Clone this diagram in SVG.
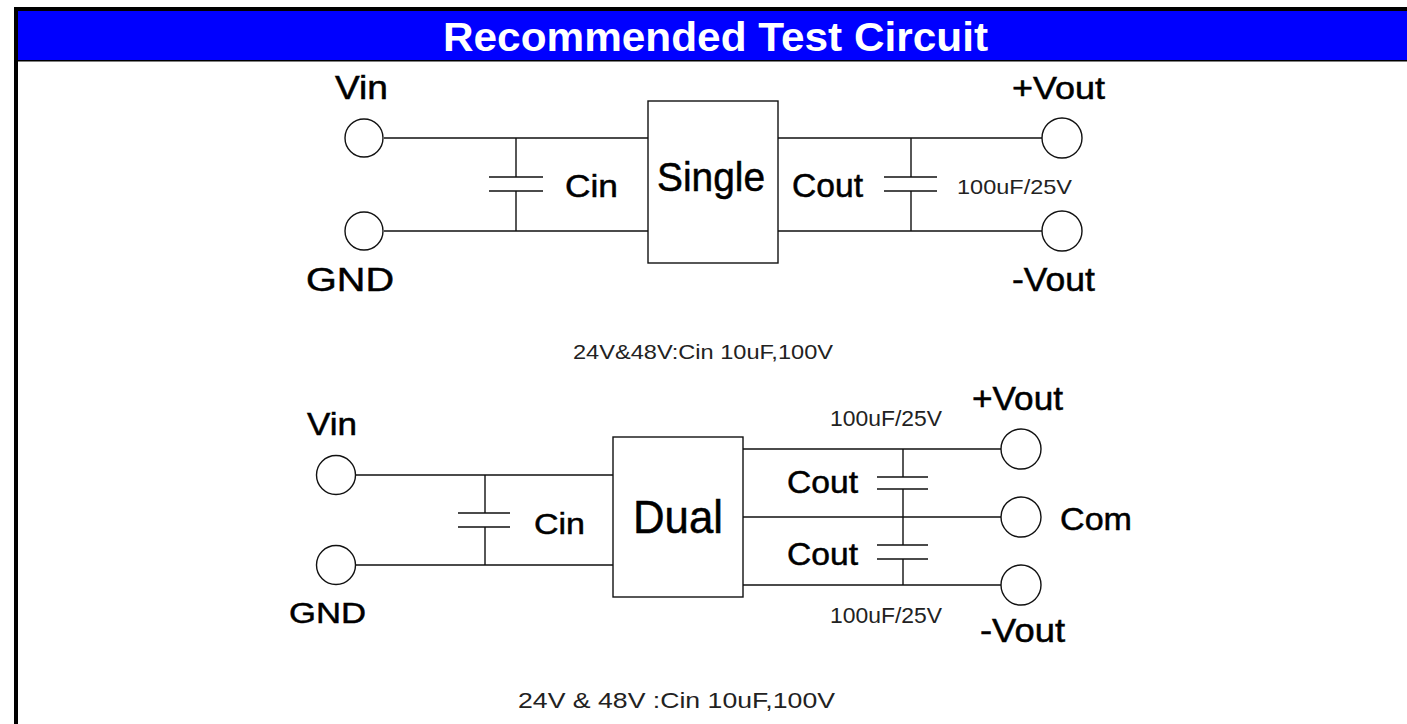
<svg xmlns="http://www.w3.org/2000/svg" width="1407" height="724" viewBox="0 0 1407 724">
<style>
.w{stroke:#111;stroke-width:1.4;fill:none}
.t{font-family:"Liberation Sans",Arial,sans-serif;fill:#000;stroke:#000;stroke-width:0.5}
.s{font-family:"Liberation Sans",Arial,sans-serif;fill:#222}
</style>
<rect x="0" y="0" width="1407" height="724" fill="#fff"/>
<g id="frame">
<rect x="14" y="7" width="1393" height="4" fill="#000"/>
<rect x="14" y="11" width="1393" height="49" fill="#0000ff"/>
<rect x="14" y="60" width="1393" height="1.5" fill="#000"/>
<rect x="14" y="7" width="4" height="717" fill="#000"/>
<text x="443" y="51" font-family="Liberation Sans,Arial,sans-serif" font-weight="bold" font-size="41" fill="#fff" textLength="545" lengthAdjust="spacingAndGlyphs">Recommended Test Circuit</text>
</g>
<g id="connectors">
<path class="w" d="M384 138H648M384 231H648M516 138V177M489 177H543M489 191H543M516 191V231"/>
<path class="w" d="M778 138H1042M778 231H1042M911 138V177M884 177H937M884 191H937M911 191V231"/>
<path class="w" d="M356 475H613M356 565H613M485 475V513M458 513H510M458 527H510M485 527V565"/>
<path class="w" d="M743 449H1001M743 517H1001M743 585H1001M903 449V477M877 477H928M877 489H928M903 489V545M877 545H928M877 559H928M903 559V585"/>
</g>
<g id="single-vin"><circle class="w" cx="364" cy="138" r="19"/><text class="t" x="335" y="99" font-size="33" textLength="53" lengthAdjust="spacingAndGlyphs">Vin</text></g>
<g id="single-gnd"><circle class="w" cx="364" cy="231" r="19"/><text class="t" x="306" y="291" font-size="34" textLength="88" lengthAdjust="spacingAndGlyphs">GND</text></g>
<g id="single-cin"><text class="t" x="565" y="197" font-size="32" textLength="53" lengthAdjust="spacingAndGlyphs">Cin</text></g>
<g id="single"><rect class="w" x="648" y="101" width="130" height="162"/><text class="t" x="657" y="191" font-size="40" textLength="108" lengthAdjust="spacingAndGlyphs">Single</text></g>
<g id="single-cout"><text class="t" x="792" y="197" font-size="33" textLength="71" lengthAdjust="spacingAndGlyphs">Cout</text><text class="s" x="957" y="194" font-size="21" textLength="115" lengthAdjust="spacingAndGlyphs">100uF/25V</text></g>
<g id="single-pvout"><circle class="w" cx="1062" cy="138" r="20"/><text class="t" x="1012" y="99" font-size="31" textLength="93" lengthAdjust="spacingAndGlyphs">+Vout</text></g>
<g id="single-nvout"><circle class="w" cx="1062" cy="231" r="20"/><text class="t" x="1012" y="291" font-size="33" textLength="83" lengthAdjust="spacingAndGlyphs">-Vout</text></g>
<g id="note1"><text class="s" x="573" y="359" font-size="21" textLength="260" lengthAdjust="spacingAndGlyphs">24V&amp;48V:Cin 10uF,100V</text></g>
<g id="dual-vin"><circle class="w" cx="336" cy="475" r="19.5"/><text class="t" x="307" y="435" font-size="31" textLength="50" lengthAdjust="spacingAndGlyphs">Vin</text></g>
<g id="dual-gnd"><circle class="w" cx="336" cy="565" r="19.5"/><text class="t" x="289" y="623" font-size="30" textLength="77" lengthAdjust="spacingAndGlyphs">GND</text></g>
<g id="dual-cin"><text class="t" x="534" y="534" font-size="30" textLength="51" lengthAdjust="spacingAndGlyphs">Cin</text></g>
<g id="dual"><rect class="w" x="613" y="437" width="130" height="160"/><text class="t" x="633" y="533" font-size="46" textLength="90" lengthAdjust="spacingAndGlyphs">Dual</text></g>
<g id="dual-cout1"><text class="t" x="787" y="493" font-size="32" textLength="71" lengthAdjust="spacingAndGlyphs">Cout</text><text class="s" x="830" y="426" font-size="22" textLength="112" lengthAdjust="spacingAndGlyphs">100uF/25V</text></g>
<g id="dual-cout2"><text class="t" x="787" y="565" font-size="32" textLength="71" lengthAdjust="spacingAndGlyphs">Cout</text><text class="s" x="830" y="623" font-size="22" textLength="112" lengthAdjust="spacingAndGlyphs">100uF/25V</text></g>
<g id="dual-pvout"><circle class="w" cx="1021" cy="449" r="20"/><text class="t" x="972" y="410" font-size="33" textLength="91" lengthAdjust="spacingAndGlyphs">+Vout</text></g>
<g id="dual-com"><circle class="w" cx="1021" cy="517" r="20"/><text class="t" x="1060" y="530" font-size="32" textLength="72" lengthAdjust="spacingAndGlyphs">Com</text></g>
<g id="dual-nvout"><circle class="w" cx="1021" cy="585" r="20"/><text class="t" x="980" y="642" font-size="33" textLength="85" lengthAdjust="spacingAndGlyphs">-Vout</text></g>
<g id="note2"><text class="s" x="518" y="708" font-size="22" textLength="317" lengthAdjust="spacingAndGlyphs">24V &amp; 48V :Cin 10uF,100V</text></g>
</svg>
